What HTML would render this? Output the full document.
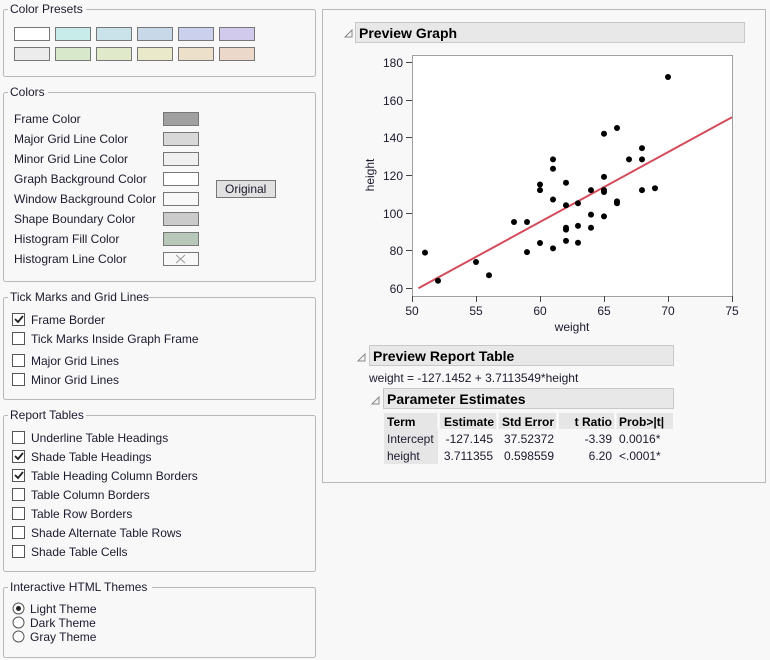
<!DOCTYPE html>
<html><head><meta charset="utf-8"><style>
html,body{margin:0;padding:0;background:#f8f8f8;}
svg{display:block;font-family:"Liberation Sans",sans-serif;}
text{font-size:12px;fill:#1a1a2e;}
.b{font-weight:bold;fill:#000;}
</style></head><body>
<svg width="770" height="660" viewBox="0 0 770 660" xmlns="http://www.w3.org/2000/svg">
<rect width="770" height="660" fill="#f8f8f8"/>
<!-- fieldsets -->
<g fill="none" stroke="#b8b8b8">
<rect x="3.5" y="9.5" width="312" height="67" rx="2"/>
<rect x="3.5" y="92.5" width="312" height="189" rx="2"/>
<rect x="3.5" y="297.5" width="312" height="102" rx="2"/>
<rect x="3.5" y="415.5" width="312" height="156" rx="2"/>
<rect x="3.5" y="587.5" width="312" height="70" rx="2"/>
<rect x="322.5" y="9.5" width="443" height="473"/>
</g>
<g fill="#f8f8f8">
<rect x="8" y="3" width="78" height="14"/>
<rect x="8" y="86" width="40" height="14"/>
<rect x="8" y="291" width="140" height="14"/>
<rect x="8" y="409" width="78" height="14"/>
<rect x="8" y="581" width="144" height="14"/>
</g>
<text x="10" y="13">Color Presets</text>
<text x="10" y="96">Colors</text>
<text x="10" y="301">Tick Marks and Grid Lines</text>
<text x="10" y="419">Report Tables</text>
<text x="10" y="591">Interactive HTML Themes</text>
<!-- presets -->
<g stroke="#777">
<rect x="14.5" y="27.5" width="35" height="13" fill="#fff"/>
<rect x="55.5" y="27.5" width="35" height="13" fill="#c8ecea"/>
<rect x="96.5" y="27.5" width="35" height="13" fill="#cae2ea"/>
<rect x="137.5" y="27.5" width="35" height="13" fill="#c9d8e8"/>
<rect x="178.5" y="27.5" width="35" height="13" fill="#cbd0ec"/>
<rect x="219.5" y="27.5" width="35" height="13" fill="#d2caec"/>
<rect x="14.5" y="47.5" width="35" height="13" fill="#ececec"/>
<rect x="55.5" y="47.5" width="35" height="13" fill="#d8e8ca"/>
<rect x="96.5" y="47.5" width="35" height="13" fill="#e0eaca"/>
<rect x="137.5" y="47.5" width="35" height="13" fill="#eaeaca"/>
<rect x="178.5" y="47.5" width="35" height="13" fill="#ece0ca"/>
<rect x="219.5" y="47.5" width="35" height="13" fill="#ecd8ca"/>
</g>
<!-- colors -->
<text x="14" y="123">Frame Color</text>
<text x="14" y="143">Major Grid Line Color</text>
<text x="14" y="163">Minor Grid Line Color</text>
<text x="14" y="183">Graph Background Color</text>
<text x="14" y="203">Window Background Color</text>
<text x="14" y="223">Shape Boundary Color</text>
<text x="14" y="243">Histogram Fill Color</text>
<text x="14" y="263">Histogram Line Color</text>
<g stroke="#777">
<rect x="163.5" y="112.5" width="35" height="13" fill="#a0a0a0"/>
<rect x="163.5" y="132.5" width="35" height="13" fill="#d8d8d8"/>
<rect x="163.5" y="152.5" width="35" height="13" fill="#f0f0f0"/>
<rect x="163.5" y="172.5" width="35" height="13" fill="#fff"/>
<rect x="163.5" y="192.5" width="35" height="13" fill="#f8f8f8"/>
<rect x="163.5" y="212.5" width="35" height="13" fill="#cbcbcb"/>
<rect x="163.5" y="232.5" width="35" height="13" fill="#b8c8b8"/>
<rect x="163.5" y="252.5" width="35" height="13" fill="#f8f8f8"/>
<rect x="216.5" y="180.5" width="59" height="17" fill="#e1e1e1"/>
</g>
<path d="M176 255l9 8M185 255l-9 8" stroke="#999"/>
<text x="225" y="193">Original</text>
<!-- checkboxes -->
<g fill="#fff" stroke="#555">
<rect x="12.5" y="313.5" width="12" height="12"/>
<rect x="12.5" y="332.5" width="12" height="12"/>
<rect x="12.5" y="354.5" width="12" height="12"/>
<rect x="12.5" y="373.5" width="12" height="12"/>
<rect x="12.5" y="431.5" width="12" height="12"/>
<rect x="12.5" y="450.5" width="12" height="12"/>
<rect x="12.5" y="469.5" width="12" height="12"/>
<rect x="12.5" y="488.5" width="12" height="12"/>
<rect x="12.5" y="507.5" width="12" height="12"/>
<rect x="12.5" y="526.5" width="12" height="12"/>
<rect x="12.5" y="545.5" width="12" height="12"/>
<circle cx="18.5" cy="608.5" r="5.5"/>
<circle cx="18.5" cy="622.5" r="5.5"/>
<circle cx="18.5" cy="636.5" r="5.5"/>
</g>
<g fill="none" stroke="#222" stroke-width="1.8">
<path d="M15 319l3 3 5-6"/><path d="M15 456l3 3 5-6"/><path d="M15 475l3 3 5-6"/>
</g>
<circle cx="18.5" cy="608.5" r="2.5" fill="#222"/>
<g>
<text x="31" y="324">Frame Border</text>
<text x="31" y="343">Tick Marks Inside Graph Frame</text>
<text x="31" y="365">Major Grid Lines</text>
<text x="31" y="384">Minor Grid Lines</text>
<text x="31" y="442">Underline Table Headings</text>
<text x="31" y="461">Shade Table Headings</text>
<text x="31" y="480">Table Heading Column Borders</text>
<text x="31" y="499">Table Column Borders</text>
<text x="31" y="518">Table Row Borders</text>
<text x="31" y="537">Shade Alternate Table Rows</text>
<text x="31" y="556">Shade Table Cells</text>
<text x="30" y="613">Light Theme</text>
<text x="30" y="627">Dark Theme</text>
<text x="30" y="641">Gray Theme</text>
</g>
<!-- right panel headers -->
<rect x="355.5" y="22.5" width="389" height="20" fill="#e8e8e8" stroke="#c8c8c8"/>
<path d="M345 37l7-7v7z" fill="none" stroke="#888"/>
<text x="359" y="38" class="b" style="font-size:14px">Preview Graph</text>
<!-- plot -->
<rect x="412.5" y="55.5" width="320" height="241" fill="#fff" stroke="#a0a0a0"/>
<g stroke="#444">
<path d="M412.5 296v6M476.5 296v6M540.5 296v6M604.5 296v6M668.5 296v6M732.5 296v6"/>
<path d="M406 62.5h6M406 100.5h6M406 137.5h6M406 175.5h6M406 213.5h6M406 250.5h6M406 288.5h6"/>
</g>
<g text-anchor="middle" style="font-size:12px">
<text x="412" y="315" text-anchor="middle">50</text><text x="476" y="315" text-anchor="middle">55</text><text x="540" y="315" text-anchor="middle">60</text><text x="604" y="315" text-anchor="middle">65</text><text x="668" y="315" text-anchor="middle">70</text><text x="732" y="315" text-anchor="middle">75</text>
<text x="572" y="331" text-anchor="middle">weight</text>
</g>
<g text-anchor="end">
<text x="403" y="67" text-anchor="end">180</text><text x="403" y="105" text-anchor="end">160</text><text x="403" y="142" text-anchor="end">140</text><text x="403" y="180" text-anchor="end">120</text><text x="403" y="218" text-anchor="end">100</text><text x="403" y="255" text-anchor="end">80</text><text x="403" y="293" text-anchor="end">60</text>
</g>
<text transform="translate(374,175) rotate(-90)" text-anchor="middle">height</text>
<line x1="418.4" y1="288.3" x2="732" y2="117.2" stroke="#d44b5a" stroke-width="2"/>
<g fill="#000" id="pts"></g>
<!-- report table -->
<rect x="369.5" y="345.5" width="304" height="20" fill="#e8e8e8" stroke="#c8c8c8"/>
<path d="M358 361l7-7v7z" fill="none" stroke="#888"/>
<text x="373" y="361" class="b" style="font-size:14px">Preview Report Table</text>
<text x="369" y="382">weight = -127.1452 + 3.7113549*height</text>
<rect x="383.5" y="388.5" width="290" height="20" fill="#e8e8e8" stroke="#c8c8c8"/>
<path d="M372 404l7-7v7z" fill="none" stroke="#888"/>
<text x="387" y="404" class="b" style="font-size:14px">Parameter Estimates</text>
<rect x="384" y="413" width="289" height="16" fill="#e6e6e6"/>
<rect x="384" y="429" width="54" height="35" fill="#e6e6e6"/>
<g stroke="#fff" stroke-width="2"><path d="M438.5 413v16M497.5 413v16M557.5 413v16M615.5 413v16"/></g>
<text x="387" y="426" class="b">Term</text>
<text x="494" y="426" class="b" text-anchor="end">Estimate</text>
<text x="554" y="426" class="b" text-anchor="end">Std Error</text>
<text x="612" y="426" class="b" text-anchor="end">t Ratio</text>
<text x="619" y="426" class="b">Prob&gt;|t|</text>
<text x="387" y="443">Intercept</text><text x="493" y="443" text-anchor="end">-127.145</text><text x="554" y="443" text-anchor="end">37.52372</text><text x="612" y="443" text-anchor="end">-3.39</text><text x="619" y="443">0.0016*</text>
<text x="387" y="460">height</text><text x="493" y="460" text-anchor="end">3.711355</text><text x="554" y="460" text-anchor="end">0.598559</text><text x="612" y="460" text-anchor="end">6.20</text><text x="619" y="460">&lt;.0001*</text>
<g fill="#000">
<circle cx="425" cy="252.6" r="3"/><circle cx="438" cy="280.8" r="3"/><circle cx="476" cy="262" r="3"/><circle cx="489" cy="275.2" r="3"/>
<circle cx="514" cy="222" r="3"/><circle cx="527" cy="222" r="3"/><circle cx="527" cy="252.1" r="3"/>
<circle cx="540" cy="184.5" r="3"/><circle cx="540" cy="190.1" r="3"/><circle cx="540" cy="243" r="3"/>
<circle cx="553" cy="159.4" r="3"/><circle cx="553" cy="168.8" r="3"/><circle cx="553" cy="199.5" r="3"/><circle cx="553" cy="248.4" r="3"/>
<circle cx="566" cy="182.7" r="3"/><circle cx="566" cy="205.2" r="3"/><circle cx="566" cy="227.8" r="3"/><circle cx="566" cy="229.6" r="3"/><circle cx="566" cy="240.9" r="3"/>
<circle cx="578" cy="203.3" r="3"/><circle cx="578" cy="225.9" r="3"/><circle cx="578" cy="242.8" r="3"/>
<circle cx="591" cy="190.1" r="3"/><circle cx="591" cy="214.6" r="3"/><circle cx="591" cy="227.8" r="3"/>
<circle cx="604" cy="133.7" r="3"/><circle cx="604" cy="176.9" r="3"/><circle cx="604" cy="190.1" r="3"/><circle cx="604" cy="192" r="3"/><circle cx="604" cy="216.4" r="3"/>
<circle cx="617" cy="128" r="3"/><circle cx="617" cy="201.4" r="3"/><circle cx="617" cy="203.3" r="3"/>
<circle cx="629" cy="159.4" r="3"/><circle cx="642" cy="148.1" r="3"/><circle cx="642" cy="159.4" r="3"/><circle cx="642" cy="190.1" r="3"/>
<circle cx="655" cy="188.2" r="3"/><circle cx="668" cy="77" r="3"/>
</g>
</svg>
</body></html>
